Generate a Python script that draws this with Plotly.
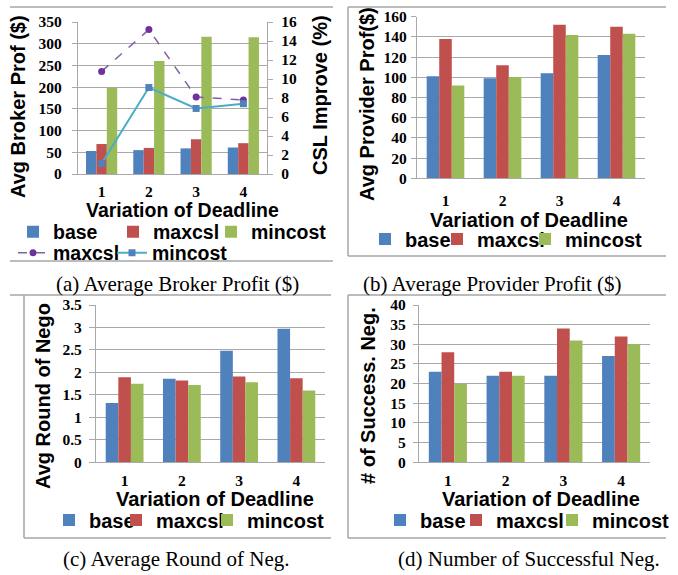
import plotly.graph_objects as go

W, H = 678, 575

categories = ["1", "2", "3", "4"]
series_names = ["base", "maxcsl", "mincost"]

broker_base = [53, 55, 59, 61]
broker_maxcsl = [69, 60, 80, 71]
broker_mincost = [199, 260, 316, 315]
csl_maxcsl = [10.8, 15.2, 8.1, 7.8]
csl_mincost = [1.1, 9.1, 6.9, 7.4]

provider_base = [101, 99, 104, 122]
provider_maxcsl = [138, 112, 152, 150]
provider_mincost = [92, 100, 142, 143]

rounds_base = [1.32, 1.86, 2.48, 2.97]
rounds_maxcsl = [1.89, 1.82, 1.91, 1.87]
rounds_mincost = [1.75, 1.72, 1.78, 1.60]

success_base = [23, 22, 22, 27]
success_maxcsl = [28, 23, 34, 32]
success_mincost = [20, 22, 31, 30]

COLORS = {"base": "#4F81BD", "maxcsl": "#C0504D", "mincost": "#9BBB59"}
GRID = "#a9a9a9"
SANS = "Liberation Sans"
SERIF = "Liberation Serif"


def px(x):
    return x / W


def py(y):
    return 1 - y / H


fig = go.Figure()

legend_layouts = {}
legend_count = [0]


def new_legend(text_x, yc, size=20):
    legend_count[0] += 1
    n = legend_count[0]
    key = "legend" if n == 1 else f"legend{n}"
    legend_layouts[key] = dict(
        x=px(text_x - 39), y=py(yc), xanchor="left", yanchor="middle",
        orientation="h", bgcolor="rgba(0,0,0,0)", borderwidth=0,
        font=dict(family=SANS, size=size, weight="bold", color="black"),
    )
    return key


def add_bars(xa, ya, values_list, legend_pos, yc, size=20):
    for name, vals, tx in zip(series_names, values_list, legend_pos):
        fig.add_trace(go.Bar(
            x=categories, y=vals, name=name, xaxis=xa, yaxis=ya,
            marker=dict(color=COLORS[name], line=dict(width=0)),
            legend=new_legend(tx, yc, size), showlegend=True,
        ))


# (a) Broker profit with CSL improvement lines
add_bars("x", "y", [broker_base, broker_maxcsl, broker_mincost], [52, 152, 250], 232, 19.5)
fig.add_trace(go.Scatter(
    x=categories, y=csl_maxcsl, name="maxcsl", xaxis="x", yaxis="y2",
    mode="lines+markers", line=dict(color="#8064A2", width=1.5, dash="dash"),
    marker=dict(symbol="circle", size=7, color="#7030A0"),
    legend=new_legend(52, 253, 19.5),
))
fig.add_trace(go.Scatter(
    x=categories, y=csl_mincost, name="mincost", xaxis="x", yaxis="y2",
    mode="lines+markers", line=dict(color="#4BACC6", width=2),
    marker=dict(symbol="square", size=7, color="#4F81BD"),
    legend=new_legend(151, 253, 19.5),
))

# (b) provider profit
add_bars("x2", "y3", [provider_base, provider_maxcsl, provider_mincost], [404, 476, 564], 239)
# (c) rounds
add_bars("x3", "y4", [rounds_base, rounds_maxcsl, rounds_mincost], [88, 155, 246], 520)
# (d) successful
add_bars("x4", "y5", [success_base, success_maxcsl, success_mincost], [419, 495, 591], 520)

tickfont = dict(family=SERIF, size=15.5, weight="bold", color="black")


def xaxis(x0, x1, anchor, standoff):
    return dict(
        domain=[px(x0), px(x1)], anchor=anchor, type="category",
        showgrid=False, showline=True, linecolor=GRID, linewidth=1.2,
        ticks="", tickfont=tickfont, ticklabelstandoff=standoff,
        automargin=False, fixedrange=True,
    )


def yaxis(y_bottom, y_top, anchor, rng, dtick, standoff, ticklen=5):
    return dict(
        domain=[py(y_bottom), py(y_top)], anchor=anchor, range=rng, dtick=dtick,
        showgrid=True, gridcolor=GRID, gridwidth=1.2, zeroline=False,
        showline=True, linecolor=GRID, linewidth=1.2,
        ticks="outside", ticklen=ticklen, tickcolor=GRID, tickwidth=1.2,
        tickfont=tickfont, ticklabelstandoff=standoff,
        automargin=False, fixedrange=True,
    )


layout = dict(
    width=W, height=H,
    margin=dict(l=0, r=0, t=0, b=0, autoexpand=False),
    paper_bgcolor="white", plot_bgcolor="white",
    barmode="group", bargap=0.34, bargroupgap=0,
    showlegend=True,
    xaxis=xaxis(78, 267, "y", 3),
    yaxis=yaxis(174, 22, "x", [0, 350], 50, 7),
    yaxis2=dict(
        overlaying="y", side="right", anchor="x", range=[0, 16], dtick=2,
        showgrid=False, zeroline=False, showline=True, linecolor=GRID, linewidth=1.2,
        ticks="outside", ticklen=5, tickcolor=GRID, tickwidth=1.2,
        tickfont=tickfont, ticklabelstandoff=5, automargin=False, fixedrange=True,
    ),
    xaxis2=xaxis(417, 645, "y3", 8),
    yaxis3=yaxis(178.3, 16.7, "x2", [0, 160], 20, 1),
    xaxis3=xaxis(96, 325, "y4", 4),
    yaxis4=yaxis(462.3, 305, "x3", [0, 3.5], 0.5, 4, 6),
    xaxis4=xaxis(419, 650, "y5", 4),
    yaxis5=yaxis(462.3, 305, "x4", [0, 40], 5, 4),
)
layout.update(legend_layouts)

annotations = []
title_font = dict(family=SANS, size=20, weight="bold", color="black")
title_font_a = dict(family=SANS, size=19.5, weight="bold", color="black")
cap_font = dict(family=SERIF, size=21, color="black")


def ann(text, x, y, font, angle=0):
    annotations.append(dict(
        text=text, x=px(x), y=py(y), xref="paper", yref="paper",
        xanchor="center", yanchor="middle", showarrow=False,
        textangle=angle, font=font,
    ))


# axis titles
ann("Avg Broker Prof ($)", 18, 107, title_font, -90)
ann("CSL Improve (%)", 320, 95, title_font, -90)
ann("Variation of Deadline", 183, 210, title_font_a)
ann("Avg Provider Prof($)", 367, 104, title_font, -90)
ann("Variation of Deadline", 529, 220, title_font)
ann("Avg Round of Nego", 43, 396, title_font, -90)
ann("Variation of Deadline", 215, 499, title_font)
ann("# of Success. Neg.", 368, 396, title_font, -90)
ann("Variation of Deadline", 541, 499, title_font)
# captions
ann("(a) Average Broker Profit ($)", 177, 284, cap_font)
ann("(b) Average Provider Profit ($)", 492, 284, cap_font)
ann("(c) Average Round of Neg.", 176, 559, cap_font)
ann("(d) Number of Successful Neg.", 529, 559, cap_font)
layout["annotations"] = annotations

# frame lines around panels
BOX = "#a6a6a6"
shapes = []


def line(x0, y0, x1, y1):
    shapes.append(dict(type="line", xref="paper", yref="paper",
                       x0=px(x0), y0=py(y0), x1=px(x1), y1=py(y1),
                       line=dict(color=BOX, width=1.5)))


line(10, 7, 333, 7)
line(10, 261, 333, 261)
line(348, 7, 666, 7)
line(348, 7, 348, 256)
line(348, 256, 666, 256)
line(10, 295, 331, 295)
line(24, 295, 24, 538)
line(24, 538, 331, 538)
line(348, 295, 666, 295)
line(348, 295, 348, 538)
line(348, 538, 666, 538)
layout["shapes"] = shapes

fig.update_layout(**layout)
fig.write_html(
    "out.html",
    config={"displayModeBar": False},
    post_script="document.body.style.margin='0';document.body.style.overflow='hidden';",
)
